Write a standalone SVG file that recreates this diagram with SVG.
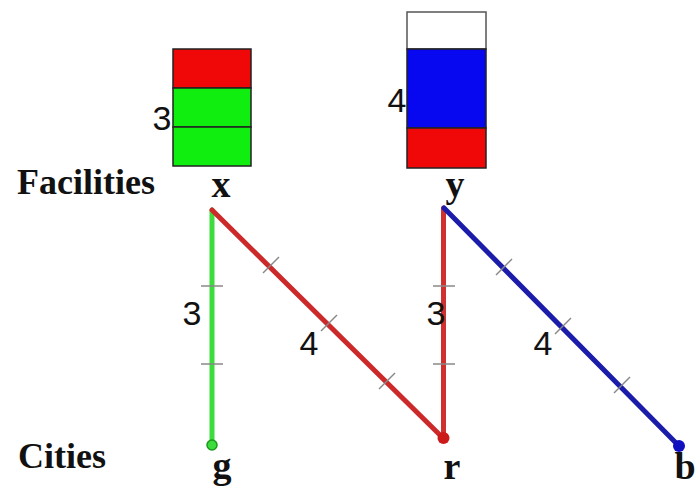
<svg xmlns="http://www.w3.org/2000/svg" width="696" height="490" viewBox="0 0 696 490">
<style>
.serif{font-family:"Liberation Serif","Times New Roman",serif;font-weight:bold;fill:#111}
.row{font-size:36px}
.nl{font-size:38px;text-anchor:middle}
.num{font-family:"Liberation Sans",Arial,sans-serif;font-size:34px;fill:#111;text-anchor:middle}
.cell{stroke:#222;stroke-width:1.5}
.tick{stroke:#888;stroke-width:1.5}
.edge{stroke-width:5;stroke-linecap:round;fill:none}
</style>
<rect width="696" height="490" fill="#fff"/>
<text class="serif row" x="17" y="194">Facilities</text>
<text class="serif row" x="18" y="468">Cities</text>

<g id="connectors">
  <line class="edge" x1="212" y1="210" x2="212" y2="445" stroke="#3ddc3d"/>
  <line class="edge" x1="212" y1="210" x2="443" y2="438" stroke="#cc2a2a"/>
  <line class="edge" x1="443.5" y1="208" x2="443.5" y2="438" stroke="#d03030"/>
  <line class="edge" x1="444" y1="208" x2="679" y2="446" stroke="#1c1caa"/>
  <g>
    <line class="tick" x1="201" y1="286" x2="223" y2="286"/>
    <line class="tick" x1="201" y1="364" x2="223" y2="364"/>
    <line class="tick" x1="433" y1="286" x2="455" y2="286"/>
    <line class="tick" x1="433" y1="364" x2="455" y2="364"/>
    <line class="tick" x1="263" y1="273" x2="279" y2="257"/>
    <line class="tick" x1="321" y1="331" x2="337" y2="315"/>
    <line class="tick" x1="379" y1="389" x2="395" y2="373"/>
    <line class="tick" x1="496" y1="275" x2="512" y2="259"/>
    <line class="tick" x1="555" y1="334" x2="571" y2="318"/>
    <line class="tick" x1="614" y1="393" x2="630" y2="377"/>
  </g>
  <text class="num" x="192" y="325">3</text>
  <text class="num" x="309" y="355">4</text>
  <text class="num" x="436" y="325">3</text>
  <text class="num" x="543" y="355">4</text>
</g>

<g id="facility-x">
  <rect class="cell" x="173" y="49" width="78" height="39" fill="#f00808"/>
  <rect class="cell" x="173" y="88" width="78" height="39" fill="#10ee10"/>
  <rect class="cell" x="173" y="127" width="78" height="39" fill="#10ee10"/>
  <text class="num" x="162" y="130">3</text>
  <text class="serif nl" x="221" y="197">x</text>
</g>

<g id="facility-y">
  <rect x="407" y="12" width="79" height="37" fill="#fff" stroke="#555" stroke-width="1.5"/>
  <rect class="cell" x="407" y="49" width="79" height="79" fill="#0808f0"/>
  <rect class="cell" x="407" y="128" width="79" height="40" fill="#f00808"/>
  <text class="num" x="397" y="112">4</text>
  <text class="serif nl" x="455" y="197">y</text>
</g>

<g id="city-g">
  <circle cx="212" cy="445" r="5" fill="#3ddc3d" stroke="#1a9a1a" stroke-width="1.5"/>
  <text class="serif nl" x="222" y="478">g</text>
</g>
<g id="city-r">
  <circle cx="443.5" cy="438" r="6" fill="#cc1a1a"/>
  <text class="serif nl" x="452" y="479">r</text>
</g>
<g id="city-b">
  <circle cx="679" cy="446" r="6" fill="#1010c0"/>
  <text class="serif nl" x="685" y="479">b</text>
</g>
</svg>
